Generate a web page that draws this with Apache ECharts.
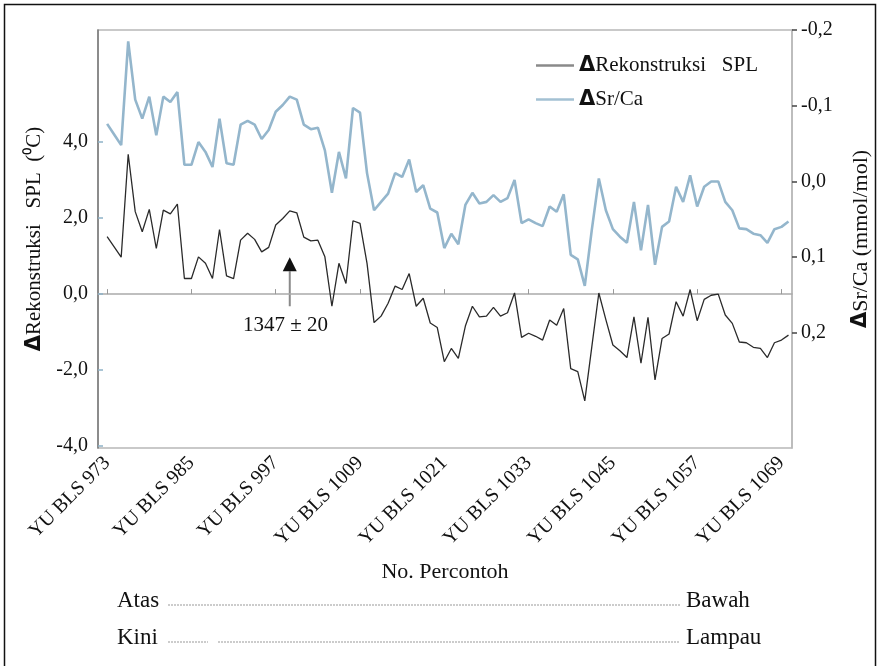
<!DOCTYPE html>
<html><head><meta charset="utf-8">
<script src="https://cdn.jsdelivr.net/npm/echarts@6/dist/echarts.min.js"></script>
<style>html,body{margin:0;padding:0;background:#fff}#c{width:880px;height:666px}</style>
</head><body><div id="c"></div><script>
// Sample numbers (YU BLS ...)
const samples = [973,974,975,976,977,978,979,980,981,982,983,984,985,986,987,988,989,990,991,992,993,994,995,996,997,998,999,1000,1001,1002,1003,1004,1005,1006,1007,1008,1009,1010,1011,1012,1013,1014,1015,1016,1017,1018,1019,1020,1021,1022,1023,1024,1025,1026,1027,1028,1029,1030,1031,1032,1033,1034,1035,1036,1037,1038,1039,1040,1041,1042,1043,1044,1045,1046,1047,1048,1049,1050,1051,1052,1053,1054,1055,1056,1057,1058,1059,1060,1061,1062,1063,1064,1065,1066,1067,1068,1069,1070];
// Delta reconstructed SST (deg C), left axis
const splDelta = [1.51,1.24,0.97,3.68,2.17,1.64,2.23,1.20,2.21,2.11,
  2.37,0.41,0.41,0.98,0.81,0.41,1.70,0.48,0.41,1.42,
  1.60,1.44,1.11,1.23,1.82,1.99,2.19,2.14,1.50,1.40,
  1.42,0.98,-0.32,0.81,0.28,1.93,1.86,0.81,-0.75,-0.58,
  -0.24,0.21,0.12,0.54,-0.32,-0.11,-0.76,-0.88,-1.78,-1.43,
  -1.69,-0.84,-0.32,-0.60,-0.58,-0.35,-0.58,-0.49,0.03,-1.14,
  -1.03,-1.11,-1.21,-0.68,-0.82,-0.38,-1.96,-2.04,-2.81,-1.39,
  0.03,-0.67,-1.34,-1.49,-1.67,-0.60,-1.82,-0.61,-2.26,-1.17,
  -1.05,-0.20,-0.58,0.12,-0.70,-0.14,-0.03,0.00,-0.55,-0.77,
  -1.26,-1.28,-1.40,-1.43,-1.67,-1.28,-1.21,-1.08];
// Delta Sr/Ca (mmol/mol), right axis (inverted)
const srcaDelta = [-0.076,-0.062,-0.048,-0.185,-0.108,-0.083,-0.112,-0.061,-0.112,-0.105,
  -0.118,-0.022,-0.022,-0.052,-0.039,-0.019,-0.083,-0.024,-0.022,-0.075,
  -0.080,-0.075,-0.056,-0.068,-0.092,-0.101,-0.112,-0.108,-0.075,-0.069,
  -0.071,-0.041,0.015,-0.039,-0.004,-0.097,-0.091,-0.011,0.038,0.027,
  0.016,-0.011,-0.006,-0.029,0.014,0.005,0.036,0.041,0.088,0.069,
  0.083,0.031,0.015,0.029,0.027,0.018,0.027,0.022,-0.002,0.055,
  0.050,0.055,0.059,0.033,0.040,0.017,0.097,0.103,0.138,0.064,
  -0.004,0.038,0.063,0.073,0.081,0.027,0.091,0.031,0.110,0.060,
  0.053,0.007,0.027,-0.008,0.033,0.007,0.000,0.000,0.027,0.038,
  0.062,0.063,0.069,0.071,0.081,0.063,0.060,0.053];
const xTicks = [973,985,997,1009,1021,1033,1045,1057,1069];
const leftTicks = [-4,-2,0,2,4];
const rightTicks = [-0.2,-0.1,0,0.1,0.2];
const annot = {sample: 999, label: '1347 \u00b1 20'};

const F = 'Liberation Serif';
const fmt = v => (Math.abs(v) < 1e-9 ? 0 : v).toFixed(1).replace('.', ',');
const chart = echarts.init(document.getElementById('c'), null, {renderer: 'canvas'});
const splData = samples.map((s, i) => [s, splDelta[i]]);
const srcaData = samples.map((s, i) => [s, srcaDelta[i]]);
const triRich = {t: {fontFamily: 'DejaVu Sans', fontWeight: 'bold', fontSize: 21, color: '#111'}};

chart.setOption({
  animation: false,
  backgroundColor: '#fff',
  grid: {left: 98, right: 87, top: 30, bottom: 218, show: true, borderColor: '#b8b8b8', borderWidth: 1.5},
  legend: {
    orient: 'vertical', left: 531, top: 50, itemWidth: 38, itemHeight: 2.5, itemGap: 13, icon: 'rect',
    textStyle: {fontFamily: F, fontSize: 21, color: '#111', rich: triRich},
    formatter: n => '{t|\u0394}' + (n === 'SPL' ? 'Rekonstruksi   SPL' : 'Sr/Ca'),
    data: [
      {name: 'SPL', icon: 'rect', itemStyle: {color: '#8a8a8a'}},
      {name: 'SrCa', icon: 'rect', itemStyle: {color: '#a3c1d3'}}
    ]
  },
  xAxis: {
    type: 'value', min: 971.7, max: 1070.5,
    name: 'No. Percontoh', nameLocation: 'middle', nameGap: 113,
    nameTextStyle: {fontFamily: F, fontSize: 22, color: '#111'},
    axisLine: {show: true, lineStyle: {color: '#aaa', width: 1.5}},
    axisTick: {show: true, inside: true, length: 5, customValues: xTicks, lineStyle: {color: '#999'}},
    axisLabel: {customValues: xTicks, rotate: 45, formatter: v => 'YU BLS ' + v,
      fontFamily: F, fontSize: 20, color: '#111', margin: 12},
    splitLine: {show: false}
  },
  yAxis: [
    {
      type: 'value', min: -4.05, max: 6.95, position: 'left',
      name: '{t|\u0394}Rekonstruksi   SPL  (\u2070C)', nameLocation: 'middle', nameGap: 52, nameRotate: 90,
      nameTextStyle: {fontFamily: F, fontSize: 21, color: '#111', rich: triRich},
      axisLine: {show: true, lineStyle: {color: '#777', width: 1.5}},
      axisTick: {show: true, inside: true, length: 5, customValues: leftTicks, lineStyle: {color: '#8fb3c8', width: 1.5}},
      axisLabel: {customValues: leftTicks, formatter: fmt, fontFamily: F, fontSize: 20, color: '#111', margin: 10},
      splitLine: {show: false}
    },
    {
      type: 'value', min: -0.2, max: 0.352, inverse: true, position: 'right',
      name: '{t|\u0394}Sr/Ca (mmol/mol)', nameLocation: 'middle', nameGap: 58, nameRotate: 90,
      nameTextStyle: {fontFamily: F, fontSize: 22, color: '#111', rich: triRich},
      axisLine: {show: true, lineStyle: {color: '#b8b8b8', width: 1.5}},
      axisTick: {show: true, inside: false, length: 5, customValues: rightTicks, lineStyle: {color: '#444', width: 1.5}},
      axisLabel: {customValues: rightTicks, formatter: fmt, fontFamily: F, fontSize: 20, color: '#111', margin: 9},
      splitLine: {show: false}
    }
  ],
  series: [
    {name: 'SrCa', type: 'line', yAxisIndex: 1, data: srcaData, symbol: 'none',
      itemStyle: {color: '#94b6cc'}, lineStyle: {color: '#94b6cc', width: 2.6}, z: 2},
    {name: 'SPL', type: 'line', yAxisIndex: 0, data: splData, symbol: 'none',
      itemStyle: {color: '#2a2a2a'}, lineStyle: {color: '#2a2a2a', width: 1.3}, z: 3}
  ]
});

// annotation arrow + label, positioned through the axes
const c = (x, y) => chart.convertToPixel({xAxisIndex: 0, yAxisIndex: 0}, [x, y]);
const tip = c(annot.sample, 0.97), base = c(annot.sample, 0.6), foot = c(annot.sample, -0.32), lab = c(annot.sample - 0.6, -0.82);
const T = (text, x, y, size, align) => ({type: 'text', style: {text, x, y, font: size + 'px "' + F + '"', fill: '#111', align: align || 'left', verticalAlign: 'middle'}});
chart.setOption({
  graphic: [
    {type: 'rect', shape: {x: 4.5, y: 4.5, width: 871, height: 670}, style: {fill: 'none', stroke: '#111', lineWidth: 1.5}, silent: true},
    {type: 'line', shape: {x1: foot[0], y1: foot[1], x2: base[0], y2: base[1]}, style: {stroke: '#8a8a8a', lineWidth: 2}},
    {type: 'polygon', shape: {points: [[tip[0], tip[1]], [tip[0] - 7, base[1]], [tip[0] + 7, base[1]]]}, style: {fill: '#111'}},
    T(annot.label, lab[0], lab[1], 21, 'center'),
    T('Atas', 117, 601, 23),
    {type: 'line', shape: {x1: 168, y1: 605, x2: 680, y2: 605}, style: {stroke: '#9a9a9a', lineWidth: 1.2, lineDash: [2, 1]}},
    T('Bawah', 686, 601, 23),
    T('Kini', 117, 638, 23),
    {type: 'line', shape: {x1: 168, y1: 642, x2: 208, y2: 642}, style: {stroke: '#9a9a9a', lineWidth: 1.2, lineDash: [2, 1]}},
    {type: 'line', shape: {x1: 218, y1: 642, x2: 680, y2: 642}, style: {stroke: '#9a9a9a', lineWidth: 1.2, lineDash: [2, 1]}},
    T('Lampau', 686, 638, 23)
  ]
});
</script></body></html>
